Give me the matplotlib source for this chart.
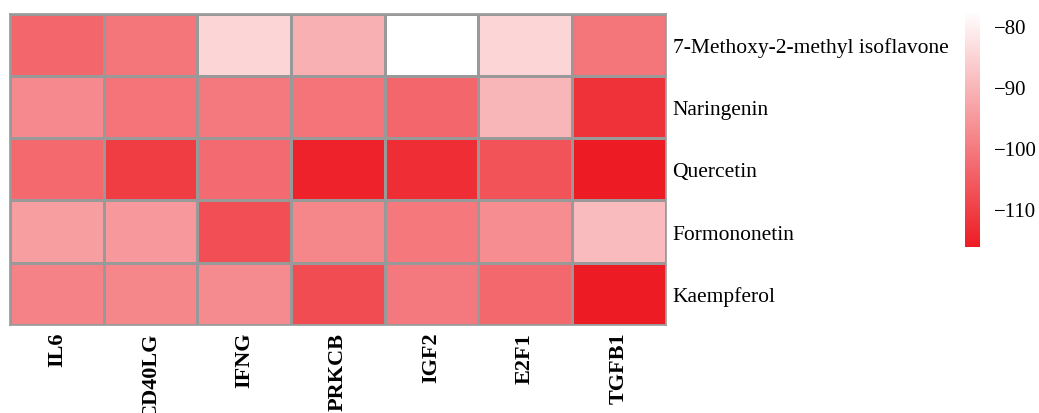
import numpy as np
import matplotlib
matplotlib.use("Agg")
import matplotlib.pyplot as plt
from matplotlib.colors import LinearSegmentedColormap

plt.rcParams['font.family'] = ['Liberation Serif', 'DejaVu Serif']

genes = ['IL6', 'CD40LG', 'IFNG', 'PRKCB', 'IGF2', 'E2F1', 'TGFB1']
compounds = ['7-Methoxy-2-methyl isoflavone', 'Naringenin', 'Quercetin',
             'Formononetin', 'Kaempferol']

# docking scores, one row per compound
methoxy = [-103.4, -100.9, -84.5, -91.0, -77.5, -84.7, -100.9]
naringenin = [-97.6, -101.2, -100.2, -101.2, -103.6, -89.9, -112.5]
quercetin = [-103.1, -110.6, -102.7, -115.0, -113.3, -106.7, -116.2]
formononetin = [-94.0, -94.9, -107.5, -98.0, -100.5, -96.9, -89.1]
kaempferol = [-98.8, -98.1, -97.3, -108.0, -100.2, -103.2, -116.2]

data = np.array([methoxy, naringenin, quercetin, formononetin, kaempferol])

# low score = red, high score = white
cmap = LinearSegmentedColormap.from_list('rw', ['#ED1C24', '#FFFFFF'])

fig = plt.figure(figsize=(10.39, 4.14), dpi=100)
ax = fig.add_axes([0.0096, 0.213, 0.631, 0.751])
cax = fig.add_axes([0.929, 0.401, 0.0144, 0.570])

mesh = ax.pcolormesh(data, cmap=cmap, vmin=data.min(), vmax=data.max(),
                     edgecolors='#999999', linewidth=1.0)
ax.set_xlim(0, len(genes))
ax.set_ylim(len(compounds), 0)
for s in ax.spines.values():
    s.set_color('#999999')
    s.set_linewidth(1.2)

ax.set_xticks(np.arange(len(genes)) + 0.5)
ax.set_xticklabels(genes, rotation=90, fontsize=16, fontweight='bold')
ax.set_yticks(np.arange(len(compounds)) + 0.5)
ax.set_yticklabels(compounds, fontsize=15.5)
ax.yaxis.tick_right()
ax.tick_params(length=0, pad=5)

cb = fig.colorbar(mesh, cax=cax)
cb.outline.set_visible(False)
cb.set_ticks([-80, -90, -100, -110])
cb.ax.tick_params(length=0, labelsize=15, pad=10)

fig.savefig('out.png', dpi=100)
